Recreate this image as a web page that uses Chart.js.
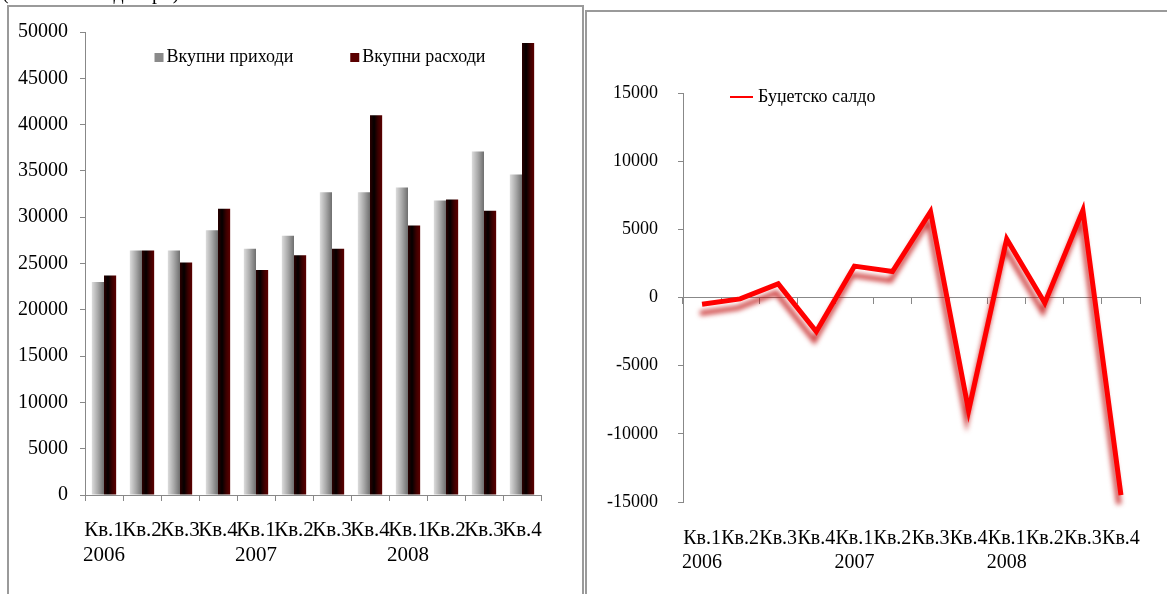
<!DOCTYPE html>
<html lang="mk">
<head>
<meta charset="UTF-8">
<title>Буџет</title>
<script src="https://cdn.jsdelivr.net/npm/chart.js"></script>
<style>
    body { margin: 0; background: #fff; width: 1167px; height: 594px; overflow: hidden; position: relative; font-family: "Liberation Serif", serif; }
    .naslov { position: absolute; left: 2px; top: -19px; font-size: 20px; white-space: nowrap; color: #000; background: #fff; will-change: transform; }
    .ramka { position: absolute; border: 2px solid #9a9a9a; background: #fff; }
    #ramkaLevo { left: 7px; top: 5px; width: 573px; height: 600px; }
    #ramkaDesno { left: 585px; top: 10px; width: 600px; height: 600px; }
    canvas { position: absolute; }
</style>
</head>
<body>

<div class="naslov">(во милиони денари)</div>
<div class="ramka" id="ramkaLevo"></div>
<div class="ramka" id="ramkaDesno"></div>

<canvas id="prihodi" style="left:10px; top:7px; width:570px; height:587px;" width="570" height="587"></canvas>
<canvas id="saldo" style="left:587px; top:12px; width:580px; height:582px;" width="580" height="582"></canvas>

<script>
    // kvartali
    const kvartali = [['Кв.1', '2006'], 'Кв.2', 'Кв.3', 'Кв.4',
                      ['Кв.1', '2007'], 'Кв.2', 'Кв.3', 'Кв.4',
                      ['Кв.1', '2008'], 'Кв.2', 'Кв.3', 'Кв.4'];

    const vkupniPrihodi = [23000, 26400, 26400, 28600, 26600, 28000, 32700, 32700, 33200, 31800, 37100, 34600];
    const vkupniRashodi = [23700, 26400, 25100, 30900, 24300, 25900, 26600, 41000, 29100, 31900, 30700, 48800];
    const budzetskoSaldo = [-500, -100, 1000, -2500, 2300, 1900, 6300, -8300, 4300, -400, 6400, -14500];

    const tickoviLevo = [0, 5000, 10000, 15000, 20000, 25000, 30000, 35000, 40000, 45000, 50000];
    const tickoviDesno = [-15000, -10000, -5000, 0, 5000, 10000, 15000];

    const siva = '#888888';
    const font = 'Liberation Serif';
    const bezZapirka = v => String(v);

    // gradient na stolbovite (levo svetlo -> desno temno)
    const gradientStolbovi = {
        id: 'gradientStolbovi',
        beforeDatasetDraw(chart, args) {
            const meta = args.meta;
            if (meta.type !== 'bar') return;
            const ctx = chart.ctx;
            const boi = chart.data.datasets[args.index].gradient;
            meta.data.forEach(el => {
                const x0 = el.x - el.width / 2;
                const g = ctx.createLinearGradient(x0, 0, x0 + el.width, 0);
                boi.forEach((c, i) => g.addColorStop(i / (boi.length - 1), c));
                el.options = Object.assign({}, el.options, { backgroundColor: g });
            });
        }
    };

    // senka pod linijata
    const senka = {
        id: 'senka',
        beforeDatasetDraw(chart, args) {
            if (args.meta.type !== 'line') return;
            const ctx = chart.ctx;
            ctx.save();
            ctx.shadowColor = 'rgba(190, 0, 0, 0.75)';
            ctx.shadowBlur = 5;
            ctx.shadowOffsetX = -2;
            ctx.shadowOffsetY = 9;
        },
        afterDatasetDraw(chart, args) {
            if (args.meta.type !== 'line') return;
            chart.ctx.restore();
        }
    };

    // legenda vo samiot grafik
    const legenda = {
        id: 'legenda',
        afterDraw(chart, args, opts) {
            const ctx = chart.ctx;
            const area = chart.chartArea;
            ctx.save();
            ctx.font = opts.size + 'px "' + font + '"';
            ctx.textBaseline = 'middle';
            ctx.fillStyle = '#000';
            const stavki = chart.data.datasets.map(ds => {
                const sw = chart.config.type === 'line' ? 23 : 9;
                return { ds, sw, w: sw + opts.razmak + ctx.measureText(ds.label).width };
            });
            const vkupno = stavki.reduce((s, it) => s + it.w, 0) + opts.medju * (stavki.length - 1);
            let x = opts.align === 'center' ? (area.left + area.right) / 2 - vkupno / 2 + opts.pomestiX : area.left + opts.pomestiX;
            const y = area.top + opts.pomestiY;
            stavki.forEach(it => {
                if (it.sw === 9) {
                    ctx.fillStyle = it.ds.legendaBoja;
                    ctx.fillRect(x, y - 4, 9, 9);
                } else {
                    ctx.strokeStyle = it.ds.borderColor;
                    ctx.lineWidth = 2;
                    ctx.beginPath();
                    ctx.moveTo(x, y);
                    ctx.lineTo(x + 23, y);
                    ctx.stroke();
                }
                ctx.fillStyle = '#000';
                ctx.fillText(it.ds.label, x + it.sw + opts.razmak, y);
                x += it.w + opts.medju;
            });
            ctx.restore();
        }
    };

    new Chart(document.getElementById('prihodi'), {
        type: 'bar',
        data: {
            labels: kvartali,
            datasets: [{
                label: 'Вкупни приходи',
                data: vkupniPrihodi,
                backgroundColor: '#a0a0a0',
                gradient: ['#dcdcdc', '#a8a8a8', '#6e6e6e'],
                legendaBoja: '#8a8a8a'
            }, {
                label: 'Вкупни расходи',
                data: vkupniRashodi,
                backgroundColor: '#5a0000',
                gradient: ['#2a0000', '#050000', '#3a0000', '#5c0000'],
                legendaBoja: '#5a0000'
            }]
        },
        options: {
            responsive: false,
            animation: false,
            layout: { padding: { top: 25, right: 39, bottom: 0, left: 0 } },
            datasets: { bar: { categoryPercentage: 0.64, barPercentage: 1 } },
            plugins: {
                legend: { display: false },
                tooltip: { enabled: false },
                legenda: { size: 18, razmak: 3, medju: 57, align: 'center', pomestiX: 7, pomestiY: 25 }
            },
            scales: {
                x: {
                    offset: true,
                    grid: { offset: true, drawOnChartArea: false, drawTicks: true, tickLength: 6, color: siva },
                    border: { color: siva, width: 1 },
                    ticks: { color: '#000', font: { family: font, size: 21 }, padding: 17, maxRotation: 0, autoSkip: false },
                    afterFit(s) { s.height = 99; }
                },
                y: {
                    min: 0,
                    max: 50000,
                    afterBuildTicks(s) { s.ticks = tickoviLevo.map(v => ({ value: v })); },
                    grid: { drawOnChartArea: false, drawTicks: true, tickLength: 5, color: siva },
                    border: { color: siva, width: 1 },
                    ticks: { color: '#000', font: { family: font, size: 20 }, padding: 12, callback: bezZapirka },
                    afterFit(s) { s.width = 75; }
                }
            }
        },
        plugins: [gradientStolbovi, legenda]
    });

    new Chart(document.getElementById('saldo'), {
        type: 'line',
        data: {
            labels: kvartali,
            datasets: [{
                label: 'Буџетско салдо',
                data: budzetskoSaldo,
                borderColor: '#ff0000',
                borderWidth: 5,
                pointRadius: 0,
                tension: 0,
                borderJoinStyle: 'miter',
                clip: false
            }]
        },
        options: {
            responsive: false,
            animation: false,
            layout: { padding: { top: 81, right: 27, bottom: 0, left: 0 } },
            plugins: {
                legend: { display: false },
                tooltip: { enabled: false },
                legenda: { size: 18, razmak: 5, medju: 20, align: 'start', pomestiX: 47, pomestiY: 4 }
            },
            scales: {
                x: {
                    type: 'category',
                    position: { y: 0 },
                    offset: true,
                    grid: { offset: true, drawOnChartArea: false, drawTicks: true, tickLength: 6, color: siva },
                    border: { color: siva, width: 1 },
                    ticks: { display: false }
                },
                x2: {
                    type: 'category',
                    position: 'bottom',
                    offset: true,
                    grid: { display: false },
                    border: { display: false },
                    ticks: { color: '#000', font: { family: font, size: 20 }, padding: 17, maxRotation: 0, autoSkip: false },
                    afterFit(s) { s.height = 92; }
                },
                y: {
                    min: -15000,
                    max: 15000,
                    afterBuildTicks(s) { s.ticks = tickoviDesno.map(v => ({ value: v })); },
                    grid: { drawOnChartArea: false, drawTicks: true, tickLength: 5, color: siva },
                    border: { color: siva, width: 1 },
                    ticks: { color: '#000', font: { family: font, size: 18 }, padding: 20, callback: bezZapirka },
                    afterFit(s) { s.width = 96; }
                }
            }
        },
        plugins: [senka, legenda]
    });
</script>
</body>
</html>
